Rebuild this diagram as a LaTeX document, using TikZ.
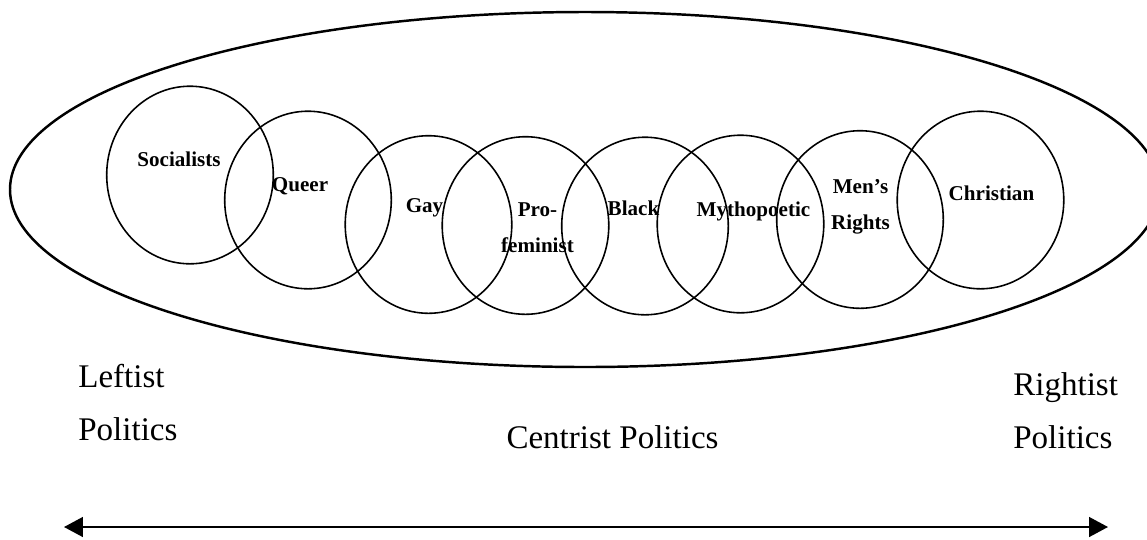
\documentclass[tikz,border=0pt]{standalone}
\usepackage{fontspec}
\setmainfont{Liberation Serif}
\usetikzlibrary{arrows.meta}

\tikzset{
  group/.style={line width=0.9pt},
  grouplabel/.style={font=\fontsize{12}{20.4}\selectfont\bfseries, inner sep=0pt, align=center, anchor=base},
  politics/.style={font=\fontsize{18.8}{30}\selectfont, inner sep=0pt, anchor=base west},
  spectrum/.style={line width=1.1pt, {Triangle[length=10.8pt,width=11.3pt]}-{Triangle[length=10.8pt,width=11.3pt]}}
}

\begin{document}
\begin{tikzpicture}[x=0.02cm,y=-0.02cm]
			%%%%% START %%%%%
			\useasboundingbox (0,0) rectangle (1147,539);
			
			% outer ellipse
			\draw[line width=1.4pt] (585,189.5) ellipse [x radius=575, y radius=177.5];
			
			% groups
			\draw[group] (190,175) ellipse [x radius=83.3, y radius=88.8];
			\draw[group] (308,200) ellipse [x radius=83.3, y radius=88.8];
			\draw[group] (428.5,224.5) ellipse [x radius=83.3, y radius=88.8];
			\draw[group] (525.5,225.5) ellipse [x radius=83.3, y radius=88.8];
			\draw[group] (645,226) ellipse [x radius=83.3, y radius=88.8];
			\draw[group] (740.5,224) ellipse [x radius=83.3, y radius=88.8];
			\draw[group] (860,219.5) ellipse [x radius=83.3, y radius=88.8];
			\draw[group] (980.5,200) ellipse [x radius=83.3, y radius=88.8];
			
			\node[grouplabel] (socialists) at (179,166) {Socialists};
			\node[grouplabel] (queer) at (300,191) {Queer};
			\node[grouplabel] (gay) at (424.5,212) {Gay};
			\node[grouplabel] (profeminist) at (537.5,252) {Pro-\\feminist};
			\node[grouplabel] (black) at (633.5,215) {Black};
			\node[grouplabel] (mythopoetic) at (753.5,216) {Mythopoetic};
			\node[grouplabel] (mensrights) at (860.5,229) {Men’s\\Rights};
			\node[grouplabel] (christian) at (991.5,200) {Christian};
			
			% politics
			\node[politics] (leftist) at (78,387) {Leftist};
			\node[politics] (leftpol) at (78,440) {Politics};
			\node[politics, anchor=base] (centrist) at (612.5,448) {Centrist Politics};
			\node[politics] (rightist) at (1013,395) {Rightist};
			\node[politics] (rightpol) at (1013,448) {Politics};
			
			\coordinate (leftend) at (64,527);
			\coordinate (rightend) at (1108,527);
			\draw[spectrum] (leftend) -- (rightend);
			%%%%% END %%%%%
\end{tikzpicture}
\end{document}
